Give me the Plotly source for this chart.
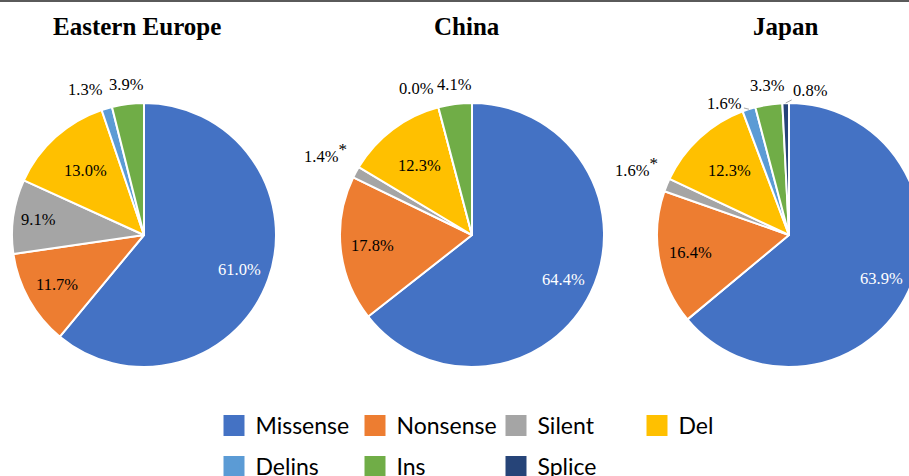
import math
import plotly.graph_objects as go

# ---------------- data ----------------
categories = ["Missense", "Nonsense", "Silent", "Del", "Delins", "Ins", "Splice"]
regions = ["Eastern Europe", "China", "Japan"]
eastern_europe = [61.0, 11.7, 9.1, 13.0, 1.3, 3.9, None]
china = [64.4, 17.8, 1.4, 12.3, 0.0, 4.1, None]
japan = [63.9, 16.4, 1.6, 12.3, 1.6, 3.3, 0.8]
series = [eastern_europe, china, japan]
starred = {"China": ["Silent"], "Japan": ["Silent"]}

# ---------------- style ----------------
colors = ["#4472C4", "#ED7D31", "#A5A5A5", "#FFC000", "#5B9BD5", "#70AD47", "#264478"]
W, H = 930, 490
centers_px = [(144, 235), (472, 235), (789, 235)]
R = 132
inside_r = {"Missense": 0.77, "Nonsense": 0.76, "Silent": 0.81, "Del": 0.66}
leaders = {("Japan", "Delins"): (-24, -6), ("Japan", "Splice"): (25, -13)}
SERIF = "Liberation Serif, Times New Roman, serif"
label_font = dict(family=SERIF, size=16.5, color="#000000")

fig = go.Figure()

annotations = []
for reg, vals, (cx, cy) in zip(regions, series, centers_px):
    fig.add_trace(go.Pie(
        labels=categories, values=vals, sort=False, direction="clockwise", rotation=0,
        marker=dict(colors=colors, line=dict(color="#FFFFFF", width=2)),
        textinfo="none", hoverinfo="label+value", showlegend=False,
        domain=dict(x=[(cx - R) / W, (cx + R) / W], y=[1 - (cy + R) / H, 1 - (cy - R) / H]),
    ))
    total = sum(v for v in vals if v is not None)
    cum = 0.0
    for cat, v in zip(categories, vals):
        if v is None:
            continue
        mid = cum + v / 2.0
        cum += v
        th = 2 * math.pi * mid / total
        dx, dy = math.sin(th), -math.cos(th)
        txt = f"{v:.1f}%"
        if cat in starred.get(reg, []):
            txt += "<sup><span style='font-size:17px'>*</span></sup>"
        if v >= 5:
            f = inside_r.get(cat, 0.75)
            px, py = cx + dx * R * f, cy + dy * R * f
            fnt = dict(label_font)
            if cat == "Missense":
                fnt["color"] = "#FFFFFF"
            annotations.append(dict(x=px / W, y=1 - py / H, xref="paper", yref="paper",
                                    text=txt, showarrow=False, font=fnt,
                                    xanchor="center", yanchor="middle"))
        elif (reg, cat) in leaders:
            ax, ay = leaders[(reg, cat)]
            px, py = cx + dx * R * 1.0, cy + dy * R * 1.0
            annotations.append(dict(x=px / W, y=1 - py / H, xref="paper", yref="paper",
                                    text=txt, showarrow=True, ax=ax, ay=ay,
                                    arrowhead=0, arrowwidth=1, arrowcolor="#A6A6A6",
                                    standoff=0, font=label_font))
        else:
            px, py = cx + dx * R * 1.06, cy + dy * R * 1.06
            xa = "right" if dx < -0.2 else ("left" if dx > 0.2 else "center")
            ya = "bottom" if dy < -0.2 else ("top" if dy > 0.2 else "middle")
            annotations.append(dict(x=px / W, y=1 - py / H, xref="paper", yref="paper",
                                    text=txt, showarrow=False, font=label_font,
                                    xanchor=xa, yanchor=ya))

# region titles
title_x_px = [137, 467, 785]
for reg, tx in zip(regions, title_x_px):
    annotations.append(dict(x=tx / W, y=1 - 27 / H, xref="paper", yref="paper",
                            text=f"<b>{reg}</b>", showarrow=False,
                            font=dict(family=SERIF, size=25, color="#000000"),
                            xanchor="center", yanchor="middle"))

# legend entries
for i, (cat, col) in enumerate(zip(categories, colors)):
    fig.add_trace(go.Scatter(
        x=[None], y=[None], mode="markers", name=cat,
        marker=dict(symbol="square", size=16, color=col, line=dict(width=5, color=col)),
        legend="legend" if i < 4 else "legend2", hoverinfo="skip",
    ))

legend_common = dict(orientation="h", xanchor="left", yanchor="top",
                     font=dict(family="Lato, Carlito, Calibri, sans-serif", size=23, color="#000000"),
                     entrywidth=93, entrywidthmode="pixels", itemwidth=33,
                     bgcolor="rgba(0,0,0,0)", traceorder="normal")
fig.update_layout(
    width=W, height=H,
    margin=dict(l=0, r=0, t=0, b=0),
    paper_bgcolor="#FFFFFF", plot_bgcolor="#FFFFFF",
    xaxis=dict(visible=False), yaxis=dict(visible=False),
    legend=dict(legend_common, x=212.5 / W, y=1 - 404 / H),
    legend2=dict(legend_common, x=212.5 / W, y=1 - 445 / H),
    annotations=annotations,
    shapes=[dict(type="line", xref="paper", yref="paper", x0=0, x1=1,
                 y0=1 - 1 / H, y1=1 - 1 / H, line=dict(color="#5A5A5A", width=2))],
)

post = ("var gd=document.getElementById('{plot_id}');var p=gd.parentElement;"
        "p.style.width='909px';p.style.height='476px';p.style.overflow='hidden';"
        "document.documentElement.style.overflow='hidden';document.body.style.overflow='hidden';"
        "document.body.style.margin='0';")
fig.write_html("out.html", post_script=post)
